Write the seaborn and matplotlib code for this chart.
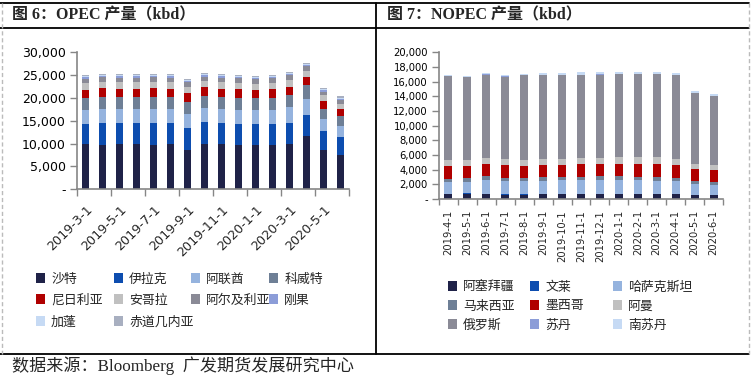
import numpy as np
import pandas as pd
import matplotlib
matplotlib.use("Agg")
import matplotlib.pyplot as plt
import seaborn as sns
from matplotlib.patches import Patch
from matplotlib.lines import Line2D
from matplotlib.ticker import FuncFormatter

# ---------------- data ----------------
opec_dates = ["2019-3-1", "2019-4-1", "2019-5-1", "2019-6-1", "2019-7-1", "2019-8-1",
              "2019-9-1", "2019-10-1", "2019-11-1", "2019-12-1", "2020-1-1", "2020-2-1",
              "2020-3-1", "2020-4-1", "2020-5-1", "2020-6-1"]
opec_names = ["沙特", "伊拉克", "阿联酋", "科威特", "尼日利亚", "安哥拉",
              "阿尔及利亚", "刚果", "加蓬", "赤道几内亚"]
saudi   = [9850, 9650, 9850, 9850, 9650, 9850, 8600, 9850, 9850, 9650, 9650, 9650, 9850, 11600, 8600, 7450]
iraq    = [4400, 4800, 4600, 4600, 4800, 4600, 4750, 4800, 4600, 4600, 4600, 4600, 4600, 4600, 4100, 3950]
uae     = [3050, 3050, 3050, 3050, 3050, 3050, 3050, 3050, 3050, 3050, 3050, 3050, 3500, 3500, 2650, 2400]
kuwait  = [2800, 2650, 2800, 2800, 2650, 2800, 2650, 2650, 2800, 2650, 2650, 2650, 2800, 3050, 2200, 2200]
nigeria = [1750, 1950, 1750, 1750, 1950, 1750, 1950, 1950, 1750, 1950, 1750, 1950, 1750, 1750, 1750, 1550]
angola  = [1500, 1350, 1500, 1350, 1350, 1350, 1350, 1350, 1350, 1350, 1350, 1350, 1500, 1500, 1350, 1100]
algeria = [900, 1050, 900, 1050, 1050, 1050, 1050, 1050, 1050, 1050, 1050, 1050, 1050, 900, 700, 850]
congo   = [330, 330, 330, 330, 330, 330, 330, 330, 330, 330, 330, 330, 280, 330, 330, 330]
gabon   = [200, 200, 200, 200, 200, 200, 200, 200, 200, 200, 200, 200, 180, 200, 200, 220]
eq_guinea = [250, 250, 250, 250, 250, 250, 250, 250, 250, 250, 250, 250, 200, 250, 250, 300]

nopec_dates = ["2019-4-1", "2019-5-1", "2019-6-1", "2019-7-1", "2019-8-1", "2019-9-1",
               "2019-10-1", "2019-11-1", "2019-12-1", "2020-1-1", "2020-2-1", "2020-3-1",
               "2020-4-1", "2020-5-1", "2020-6-1"]
nopec_names = ["阿塞拜疆", "文莱", "哈萨克斯坦", "马来西亚", "墨西哥", "阿曼",
               "俄罗斯", "苏丹", "南苏丹"]
azerbaijan = [680, 700, 680, 550, 550, 680, 680, 680, 680, 680, 680, 680, 680, 550, 550]
brunei     = [0, 100, 0, 130, 130, 0, 0, 0, 0, 0, 0, 0, 0, 0, 0]
kazakhstan = [1650, 1500, 1900, 1750, 1750, 1750, 1900, 1900, 1900, 1900, 1900, 1750, 1750, 1500, 1350]
malaysia   = [400, 550, 550, 400, 400, 550, 400, 400, 550, 550, 400, 550, 400, 400, 400]
mexico     = [1750, 1650, 1650, 1750, 1650, 1650, 1650, 1750, 1650, 1650, 1750, 1750, 1750, 1650, 1650]
oman       = [820, 820, 820, 820, 820, 820, 820, 820, 820, 950, 950, 950, 820, 680, 680]
russia     = [11450, 11250, 11350, 11250, 11550, 11450, 11400, 11300, 11350, 11300, 11300, 11300, 11450, 9650, 9400]
sudan      = [70, 70, 70, 70, 70, 70, 70, 70, 70, 70, 70, 70, 70, 70, 70]
south_sudan = [110, 160, 160, 250, 110, 200, 250, 340, 300, 200, 200, 200, 200, 250, 200]

opec_ticklabels = ["2019-3-1", "2019-5-1", "2019-7-1", "2019-9-1",
                   "2019-11-1", "2020-1-1", "2020-3-1", "2020-5-1"]

palette = ["#1F2248", "#0D4DAF", "#95B3DE", "#6E7F96", "#B00000", "#C0C0C0",
           "#8A8A96", "#8C9DD8", "#C6DAF4", "#A8AFC0"]
nopec_palette = ["#1F2248", "#0D4DAF", "#95B3DE", "#6E7F96", "#B00000", "#C0C0C0",
                 "#8A8A96", "#8C9DD8", "#C6DAF4"]

# ---------------- style ----------------
sns.set_theme(style="white")
plt.rcParams['font.family'] = ['DejaVu Sans', 'Noto Sans CJK SC']

W, H = 753, 376
fig = plt.figure(figsize=(W / 100, H / 100), dpi=100)
fig.patch.set_facecolor("white")


def fx(px):
    return px / W


def fy(py):
    return 1 - py / H


AXC = "#868686"


def stacked(ax, cats, layers, colors, width):
    cum = np.cumsum(np.array(layers, dtype=float), axis=0)
    for i in range(len(layers) - 1, -1, -1):
        df = pd.DataFrame({"date": cats, "v": cum[i]})
        sns.barplot(data=df, x="date", y="v", color=colors[i], saturation=1,
                    width=width, ax=ax, linewidth=0, errorbar=None)


def style_axes(ax, ymax, ystep, ysize):
    ax.set_xlabel("")
    ax.set_ylabel("")
    ax.set_ylim(0, ymax)
    ax.set_yticks(np.arange(0, ymax + 1, ystep))
    ax.yaxis.set_major_formatter(FuncFormatter(lambda v, p: "-" if v == 0 else f"{v:,.0f}"))
    for s in ["top", "right"]:
        ax.spines[s].set_visible(False)
    for s in ["left", "bottom"]:
        ax.spines[s].set_color(AXC)
        ax.spines[s].set_linewidth(1.2)
    ax.tick_params(axis="y", left=True, length=5, width=1, color=AXC,
                   labelsize=ysize, pad=3, labelcolor="black")
    ax.set_facecolor("white")


# ---------------- left: OPEC ----------------
ax1 = fig.add_axes([fx(77), fy(189.3), fx(349) - fx(77), fy(52.3) - fy(189.3)])
opec_layers = [saudi, iraq, uae, kuwait, nigeria, angola, algeria, congo, gabon, eq_guinea]
stacked(ax1, opec_dates, opec_layers, palette, 0.38)
style_axes(ax1, 30000, 5000, 9)
n1 = len(opec_dates)
ax1.set_xlim(-0.5, n1 - 0.5)
ax1.set_xticks(np.arange(-0.5, n1, 2))
ax1.set_xticklabels([])
ax1.set_xticks(np.arange(0, n1, 2), minor=True)
ax1.set_xticklabels(opec_ticklabels, minor=True, rotation=45, ha="right",
                    rotation_mode="anchor", fontsize=9.2)
ax1.tick_params(axis="x", which="major", bottom=True, length=5, width=1, color=AXC)
ax1.tick_params(axis="x", which="minor", bottom=True, length=0, pad=10)

# ---------------- right: NOPEC ----------------
ax2 = fig.add_axes([fx(439), fy(199), fx(723) - fx(439), fy(52.3) - fy(199)])
nopec_layers = [azerbaijan, brunei, kazakhstan, malaysia, mexico, oman, russia, sudan, south_sudan]
stacked(ax2, nopec_dates, nopec_layers, nopec_palette, 0.42)
style_axes(ax2, 20000, 2000, 7.2)
n2 = len(nopec_dates)
ax2.set_xlim(-0.5, n2 - 0.5)
ax2.set_xticks(np.arange(-0.5, n2, 1))
ax2.set_xticklabels([])
ax2.set_xticks(np.arange(0, n2, 1), minor=True)
ax2.set_xticklabels(nopec_dates, minor=True, rotation=90, ha="center", va="top", fontsize=7.2)
ax2.tick_params(axis="x", which="major", bottom=True, length=4, width=1, color=AXC)
ax2.tick_params(axis="x", which="minor", bottom=True, length=0, pad=8)

# ---------------- legends ----------------
def legend_entry(label, color, x, y):
    lg = fig.legend(handles=[Patch(facecolor=color, edgecolor="none")], labels=[label],
                    loc="center left", bbox_to_anchor=(fx(x), fy(y)), frameon=False,
                    borderpad=0, borderaxespad=0, handlelength=0.72, handleheight=0.72,
                    handletextpad=0.45, fontsize=9.3)
    return lg

left_cols = [36, 114, 191, 269]
left_rows = [279, 300, 322]
for k, (name, col) in enumerate(zip(opec_names, palette)):
    legend_entry(name, col, left_cols[k % 4], left_rows[k // 4])

right_cols = [448, 530, 613]
right_rows = [287, 306, 325]
for k, (name, col) in enumerate(zip(nopec_names, nopec_palette)):
    legend_entry(name, col, right_cols[k % 3], right_rows[k // 3])

# ---------------- frame & titles ----------------
def hline(y, x0, x1, **kw):
    fig.add_artist(Line2D([fx(x0), fx(x1)], [fy(y), fy(y)], transform=fig.transFigure, **kw))


def vline(x, y0, y1, **kw):
    fig.add_artist(Line2D([fx(x), fx(x)], [fy(y0), fy(y1)], transform=fig.transFigure, **kw))

hline(2.5, 0, 749, color="black", linewidth=1.3)
hline(28, 0, 749, color="black", linewidth=1.3)
hline(354, 0, 749, color="black", linewidth=1.3)
vline(375.5, 2.5, 354, color="black", linewidth=1.3)
vline(1.5, 2.5, 354, color="#BBBBBB", linewidth=1, linestyle=(0, (3, 2)))
vline(749, 2.5, 354, color="#BBBBBB", linewidth=1, linestyle=(0, (3, 2)))

title_font = ["Liberation Serif", "Noto Sans CJK SC"]
fig.text(fx(12), fy(15.5), "图 6：OPEC 产量（kbd）", fontsize=11.5, fontweight="bold",
         family=title_font, va="center", ha="left")
fig.text(fx(387), fy(15.5), "图 7：NOPEC 产量（kbd）", fontsize=11.5, fontweight="bold",
         family=title_font, va="center", ha="left")
fig.text(fx(12), fy(366), "数据来源：Bloomberg  广发期货发展研究中心", fontsize=12.3,
         family=title_font, va="center", ha="left")

fig.savefig("out.png", dpi=100, facecolor="white")
